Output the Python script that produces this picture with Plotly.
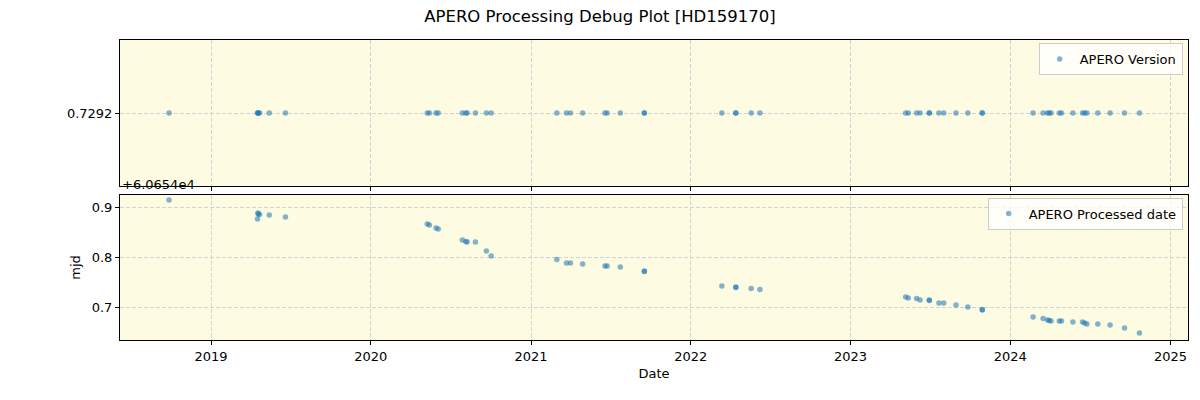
import plotly.graph_objects as go

# observation dates (shared by both panels)
dates = [
    "2018-09-27", "2019-04-17", "2019-04-18", "2019-04-19", "2019-04-22", "2019-05-14", "2019-06-20",
    "2020-05-09", "2020-05-14", "2020-05-29", "2020-06-03", "2020-07-28", "2020-08-05", "2020-08-08",
    "2020-08-27", "2020-09-21", "2020-10-02",
    "2021-03-01", "2021-03-23", "2021-04-01", "2021-04-29", "2021-06-19", "2021-06-24", "2021-07-24",
    "2021-09-17", "2021-09-17",
    "2022-03-13", "2022-04-14", "2022-04-14", "2022-05-19", "2022-06-08",
    "2023-05-07", "2023-05-13", "2023-06-01", "2023-06-09", "2023-06-30", "2023-06-30", "2023-07-22",
    "2023-08-02", "2023-08-30", "2023-09-26", "2023-10-29", "2023-10-29",
    "2024-02-22", "2024-03-16", "2024-03-26", "2024-03-30", "2024-04-03", "2024-04-22", "2024-04-27",
    "2024-05-23", "2024-06-14", "2024-06-19", "2024-06-24", "2024-07-19", "2024-08-16", "2024-09-18",
    "2024-10-22",
]

# APERO version (constant)
version_value = 0.7292
versions = [version_value] * len(dates)

# APERO processed date (mjd), shown as offset from 60654
mjd_offset = 60654
processed_frac = [
    0.914, 0.876, 0.888, 0.886, 0.885, 0.884, 0.880,
    0.866, 0.864, 0.858, 0.856, 0.834, 0.831, 0.830,
    0.830, 0.812, 0.802,
    0.795, 0.788, 0.788, 0.786, 0.782, 0.782, 0.780,
    0.772, 0.771,
    0.742, 0.740, 0.739, 0.737, 0.735,
    0.720, 0.718, 0.717, 0.714, 0.714, 0.713, 0.708,
    0.708, 0.704, 0.700, 0.695, 0.694,
    0.680, 0.677, 0.674, 0.673, 0.672, 0.672, 0.672,
    0.670, 0.670, 0.668, 0.666, 0.666, 0.664, 0.658,
    0.648,
]

x_ticks = ["2019-01-01", "2020-01-01", "2021-01-01", "2022-01-01", "2023-01-01", "2024-01-01", "2025-01-01"]
x_tick_text = ["2019", "2020", "2021", "2022", "2023", "2024", "2025"]
x_range = ["2018-06-07", "2025-02-10"]

blue = "#1f77b4"
bg = "#fdfbe1"
grid = "#d3d3d3"
font = "DejaVu Sans"

fig = go.Figure()
fig.add_trace(go.Scatter(
    x=dates, y=versions, mode="markers", name="APERO Version",
    marker=dict(color=blue, opacity=0.55, size=5.5, line=dict(width=0)),
    xaxis="x", yaxis="y", legend="legend",
))
fig.add_trace(go.Scatter(
    x=dates, y=processed_frac, mode="markers", name="APERO Processed date",
    marker=dict(color=blue, opacity=0.55, size=5.5, line=dict(width=0)),
    xaxis="x2", yaxis="y2", legend="legend2",
))

axis_common = dict(
    showline=True, linecolor="black", linewidth=1, mirror=True,
    ticks="outside", ticklen=4, tickcolor="black",
    showgrid=True, gridcolor=grid, griddash="4px,2px", gridwidth=1,
    zeroline=False, tickfont=dict(family=font, size=13, color="black"),
)

fig.update_layout(
    width=1200, height=400,
    margin=dict(l=120, r=12, t=40, b=60),
    paper_bgcolor="white", plot_bgcolor=bg,
    font=dict(family=font, size=13, color="black"),
    title=dict(text="APERO Processing Debug Plot [HD159170]", x=0.5, xanchor="center",
               y=0.96, yanchor="middle", font=dict(family=font, size=16.5)),
    xaxis=dict(domain=[0, 1], anchor="y", type="date", range=x_range,
               tickvals=x_ticks, ticktext=x_tick_text, showticklabels=False, **axis_common),
    yaxis=dict(domain=[0.5133, 1.0], anchor="x",
               range=[version_value - 0.0365, version_value + 0.0365],
               tickvals=[version_value], ticktext=["0.7292"], **axis_common),
    xaxis2=dict(domain=[0, 1], anchor="y2", type="date", range=x_range, matches="x",
                tickvals=x_ticks, ticktext=x_tick_text,
                title=dict(text="Date", font=dict(family=font, size=13), standoff=6), **axis_common),
    yaxis2=dict(domain=[0.0, 0.4833], anchor="x2", range=[0.634, 0.924],
                tickvals=[0.7, 0.8, 0.9], ticktext=["0.7", "0.8", "0.9"],
                title=dict(text="mjd", font=dict(family=font, size=13), standoff=8), **axis_common),
    legend=dict(x=0.995, y=0.99, xanchor="right", yanchor="top",
                bgcolor="rgba(255,255,255,0.8)", bordercolor="#cccccc", borderwidth=1,
                font=dict(family=font, size=13)),
    legend2=dict(x=0.995, y=0.475, xanchor="right", yanchor="top",
                 bgcolor="rgba(255,255,255,0.8)", bordercolor="#cccccc", borderwidth=1,
                 font=dict(family=font, size=13)),
    showlegend=True,
    annotations=[dict(text="+6.0654e4", xref="paper", yref="paper", x=0.0, y=0.52,
                      xanchor="left", yanchor="middle", showarrow=False,
                      font=dict(family=font, size=13, color="black"))],
)

fig.write_html("out.html")
